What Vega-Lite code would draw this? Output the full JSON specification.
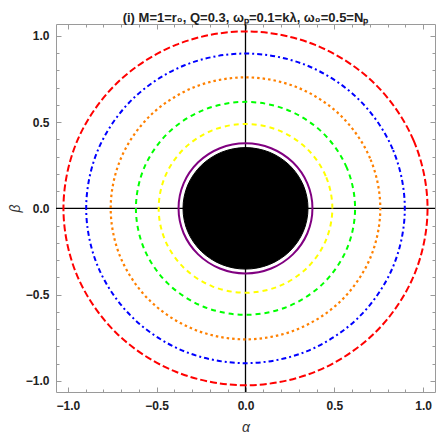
{
  "$schema": "https://vega.github.io/schema/vega-lite/v6.json",
  "width": 379,
  "height": 368,
  "autosize": {"type": "none"},
  "padding": {"left": 56, "top": 24, "right": 1, "bottom": 44},
  "background": "white",
  "config": {
    "view": {"stroke": "#9a9a9a", "strokeWidth": 1},
    "font": "Liberation Sans"
  },
  "title": {
    "text": "(i) M=1=r₀, Q=0.3, ωₚ=0.1=kλ, ω₀=0.5=Nₚ",
    "anchor": "middle",
    "fontSize": 13,
    "fontWeight": "bold",
    "font": "Liberation Sans",
    "color": "#222222",
    "offset": -2
  },
  "datasets": {
    "circles": [
      {"c": "red", "i": 0, "x": 1.025, "y": 0},
      {"c": "red", "i": 1, "x": 0.94698, "y": 0.39225},
      {"c": "red", "i": 2, "x": 0.72479, "y": 0.72479},
      {"c": "red", "i": 3, "x": 0.39225, "y": 0.94698},
      {"c": "red", "i": 4, "x": 0, "y": 1.025},
      {"c": "red", "i": 5, "x": -0.39225, "y": 0.94698},
      {"c": "red", "i": 6, "x": -0.72479, "y": 0.72479},
      {"c": "red", "i": 7, "x": -0.94698, "y": 0.39225},
      {"c": "red", "i": 8, "x": -1.025, "y": 0},
      {"c": "red", "i": 9, "x": -0.94698, "y": -0.39225},
      {"c": "red", "i": 10, "x": -0.72479, "y": -0.72479},
      {"c": "red", "i": 11, "x": -0.39225, "y": -0.94698},
      {"c": "red", "i": 12, "x": 0, "y": -1.025},
      {"c": "red", "i": 13, "x": 0.39225, "y": -0.94698},
      {"c": "red", "i": 14, "x": 0.72479, "y": -0.72479},
      {"c": "red", "i": 15, "x": 0.94698, "y": -0.39225},

      {"c": "blue", "i": 0, "x": 0.897, "y": 0},
      {"c": "blue", "i": 1, "x": 0.82872, "y": 0.34326},
      {"c": "blue", "i": 2, "x": 0.63428, "y": 0.63428},
      {"c": "blue", "i": 3, "x": 0.34326, "y": 0.82872},
      {"c": "blue", "i": 4, "x": 0, "y": 0.897},
      {"c": "blue", "i": 5, "x": -0.34326, "y": 0.82872},
      {"c": "blue", "i": 6, "x": -0.63428, "y": 0.63428},
      {"c": "blue", "i": 7, "x": -0.82872, "y": 0.34326},
      {"c": "blue", "i": 8, "x": -0.897, "y": 0},
      {"c": "blue", "i": 9, "x": -0.82872, "y": -0.34326},
      {"c": "blue", "i": 10, "x": -0.63428, "y": -0.63428},
      {"c": "blue", "i": 11, "x": -0.34326, "y": -0.82872},
      {"c": "blue", "i": 12, "x": 0, "y": -0.897},
      {"c": "blue", "i": 13, "x": 0.34326, "y": -0.82872},
      {"c": "blue", "i": 14, "x": 0.63428, "y": -0.63428},
      {"c": "blue", "i": 15, "x": 0.82872, "y": -0.34326},

      {"c": "orange", "i": 0, "x": 0.759, "y": 0},
      {"c": "orange", "i": 1, "x": 0.70123, "y": 0.29045},
      {"c": "orange", "i": 2, "x": 0.5367, "y": 0.5367},
      {"c": "orange", "i": 3, "x": 0.29045, "y": 0.70123},
      {"c": "orange", "i": 4, "x": 0, "y": 0.759},
      {"c": "orange", "i": 5, "x": -0.29045, "y": 0.70123},
      {"c": "orange", "i": 6, "x": -0.5367, "y": 0.5367},
      {"c": "orange", "i": 7, "x": -0.70123, "y": 0.29045},
      {"c": "orange", "i": 8, "x": -0.759, "y": 0},
      {"c": "orange", "i": 9, "x": -0.70123, "y": -0.29045},
      {"c": "orange", "i": 10, "x": -0.5367, "y": -0.5367},
      {"c": "orange", "i": 11, "x": -0.29045, "y": -0.70123},
      {"c": "orange", "i": 12, "x": 0, "y": -0.759},
      {"c": "orange", "i": 13, "x": 0.29045, "y": -0.70123},
      {"c": "orange", "i": 14, "x": 0.5367, "y": -0.5367},
      {"c": "orange", "i": 15, "x": 0.70123, "y": -0.29045},

      {"c": "green", "i": 0, "x": 0.617, "y": 0},
      {"c": "green", "i": 1, "x": 0.57003, "y": 0.23611},
      {"c": "green", "i": 2, "x": 0.43629, "y": 0.43629},
      {"c": "green", "i": 3, "x": 0.23611, "y": 0.57003},
      {"c": "green", "i": 4, "x": 0, "y": 0.617},
      {"c": "green", "i": 5, "x": -0.23611, "y": 0.57003},
      {"c": "green", "i": 6, "x": -0.43629, "y": 0.43629},
      {"c": "green", "i": 7, "x": -0.57003, "y": 0.23611},
      {"c": "green", "i": 8, "x": -0.617, "y": 0},
      {"c": "green", "i": 9, "x": -0.57003, "y": -0.23611},
      {"c": "green", "i": 10, "x": -0.43629, "y": -0.43629},
      {"c": "green", "i": 11, "x": -0.23611, "y": -0.57003},
      {"c": "green", "i": 12, "x": 0, "y": -0.617},
      {"c": "green", "i": 13, "x": 0.23611, "y": -0.57003},
      {"c": "green", "i": 14, "x": 0.43629, "y": -0.43629},
      {"c": "green", "i": 15, "x": 0.57003, "y": -0.23611},

      {"c": "yellow", "i": 0, "x": 0.489, "y": 0},
      {"c": "yellow", "i": 1, "x": 0.45178, "y": 0.18713},
      {"c": "yellow", "i": 2, "x": 0.34578, "y": 0.34578},
      {"c": "yellow", "i": 3, "x": 0.18713, "y": 0.45178},
      {"c": "yellow", "i": 4, "x": 0, "y": 0.489},
      {"c": "yellow", "i": 5, "x": -0.18713, "y": 0.45178},
      {"c": "yellow", "i": 6, "x": -0.34578, "y": 0.34578},
      {"c": "yellow", "i": 7, "x": -0.45178, "y": 0.18713},
      {"c": "yellow", "i": 8, "x": -0.489, "y": 0},
      {"c": "yellow", "i": 9, "x": -0.45178, "y": -0.18713},
      {"c": "yellow", "i": 10, "x": -0.34578, "y": -0.34578},
      {"c": "yellow", "i": 11, "x": -0.18713, "y": -0.45178},
      {"c": "yellow", "i": 12, "x": 0, "y": -0.489},
      {"c": "yellow", "i": 13, "x": 0.18713, "y": -0.45178},
      {"c": "yellow", "i": 14, "x": 0.34578, "y": -0.34578},
      {"c": "yellow", "i": 15, "x": 0.45178, "y": -0.18713},

      {"c": "purple", "i": 0, "x": 0.377, "y": 0},
      {"c": "purple", "i": 1, "x": 0.3483, "y": 0.14427},
      {"c": "purple", "i": 2, "x": 0.26658, "y": 0.26658},
      {"c": "purple", "i": 3, "x": 0.14427, "y": 0.3483},
      {"c": "purple", "i": 4, "x": 0, "y": 0.377},
      {"c": "purple", "i": 5, "x": -0.14427, "y": 0.3483},
      {"c": "purple", "i": 6, "x": -0.26658, "y": 0.26658},
      {"c": "purple", "i": 7, "x": -0.3483, "y": 0.14427},
      {"c": "purple", "i": 8, "x": -0.377, "y": 0},
      {"c": "purple", "i": 9, "x": -0.3483, "y": -0.14427},
      {"c": "purple", "i": 10, "x": -0.26658, "y": -0.26658},
      {"c": "purple", "i": 11, "x": -0.14427, "y": -0.3483},
      {"c": "purple", "i": 12, "x": 0, "y": -0.377},
      {"c": "purple", "i": 13, "x": 0.14427, "y": -0.3483},
      {"c": "purple", "i": 14, "x": 0.26658, "y": -0.26658},
      {"c": "purple", "i": 15, "x": 0.3483, "y": -0.14427},

      {"c": "black", "i": 0, "x": 0.352, "y": 0},
      {"c": "black", "i": 1, "x": 0.32521, "y": 0.1347},
      {"c": "black", "i": 2, "x": 0.2489, "y": 0.2489},
      {"c": "black", "i": 3, "x": 0.1347, "y": 0.32521},
      {"c": "black", "i": 4, "x": 0, "y": 0.352},
      {"c": "black", "i": 5, "x": -0.1347, "y": 0.32521},
      {"c": "black", "i": 6, "x": -0.2489, "y": 0.2489},
      {"c": "black", "i": 7, "x": -0.32521, "y": 0.1347},
      {"c": "black", "i": 8, "x": -0.352, "y": 0},
      {"c": "black", "i": 9, "x": -0.32521, "y": -0.1347},
      {"c": "black", "i": 10, "x": -0.2489, "y": -0.2489},
      {"c": "black", "i": 11, "x": -0.1347, "y": -0.32521},
      {"c": "black", "i": 12, "x": 0, "y": -0.352},
      {"c": "black", "i": 13, "x": 0.1347, "y": -0.32521},
      {"c": "black", "i": 14, "x": 0.2489, "y": -0.2489},
      {"c": "black", "i": 15, "x": 0.32521, "y": -0.1347}
    ],
    "origin": [{"z": 0}]
  },
  "resolve": {"axis": {"x": "independent", "y": "independent"}},
  "layer": [
    {
      "data": {"name": "origin"},
      "mark": {"type": "rule", "color": "black", "strokeWidth": 1.3},
      "encoding": {
        "x": {"field": "z", "type": "quantitative", "scale": {"domain": [-1.067, 1.067], "nice": false, "zero": false},
          "axis": {
            "orient": "bottom",
            "values": [-1, -0.9, -0.8, -0.7, -0.6, -0.5, -0.4, -0.3, -0.2, -0.1, 0, 0.1, 0.2, 0.3, 0.4, 0.5, 0.6, 0.7, 0.8, 0.9, 1],
            "labelExpr": "abs(datum.value*2 - round(datum.value*2)) < 0.001 ? format(datum.value, '.1f') : ''",
            "tickSize": {"condition": {"test": "abs(datum.value*2 - round(datum.value*2)) < 0.001", "value": -5}, "value": -3},
            "tickColor": "#9a9a9a",
            "domain": false,
            "grid": false,
            "labelPadding": 13,
            "labelOverlap": false,
            "labelFlush": false,
            "labelFont": "Liberation Sans",
            "labelFontSize": 12,
            "labelFontWeight": "bold",
            "labelColor": "#222222",
            "title": "α",
            "titleFont": "Liberation Sans",
            "titleFontSize": 14,
            "titleFontStyle": "italic",
            "titleFontWeight": "normal",
            "titleColor": "#333333",
            "titlePadding": 7
          }
        }
      }
    },
    {
      "data": {"name": "origin"},
      "mark": {"type": "rule", "color": "black", "strokeWidth": 1.3},
      "encoding": {
        "y": {"field": "z", "type": "quantitative", "scale": {"domain": [-1.064, 1.068], "nice": false, "zero": false},
          "axis": {
            "orient": "left",
            "values": [-1, -0.9, -0.8, -0.7, -0.6, -0.5, -0.4, -0.3, -0.2, -0.1, 0, 0.1, 0.2, 0.3, 0.4, 0.5, 0.6, 0.7, 0.8, 0.9, 1],
            "labelExpr": "abs(datum.value*2 - round(datum.value*2)) < 0.001 ? format(datum.value, '.1f') : ''",
            "tickSize": {"condition": {"test": "abs(datum.value*2 - round(datum.value*2)) < 0.001", "value": -5}, "value": -3},
            "tickColor": "#9a9a9a",
            "domain": false,
            "grid": false,
            "labelPadding": 12,
            "labelOverlap": false,
            "labelFlush": false,
            "labelFont": "Liberation Sans",
            "labelFontSize": 12,
            "labelFontWeight": "bold",
            "labelColor": "#222222",
            "title": "β",
            "titleFont": "Liberation Sans",
            "titleFontSize": 14,
            "titleFontStyle": "italic",
            "titleFontWeight": "normal",
            "titleColor": "#333333",
            "titlePadding": 3
          }
        }
      }
    },
    {
      "data": {"name": "circles"},
      "transform": [{"filter": "datum.c === 'black'"}],
      "mark": {"type": "line", "interpolate": "cardinal-closed", "stroke": "black", "fill": "black", "strokeWidth": 1},
      "encoding": {
        "x": {"field": "x", "type": "quantitative",
          "axis": {
            "orient": "top",
            "values": [-1, -0.9, -0.8, -0.7, -0.6, -0.5, -0.4, -0.3, -0.2, -0.1, 0, 0.1, 0.2, 0.3, 0.4, 0.5, 0.6, 0.7, 0.8, 0.9, 1],
            "labels": false,
            "tickSize": {"condition": {"test": "abs(datum.value*2 - round(datum.value*2)) < 0.001", "value": -5}, "value": -3},
            "tickColor": "#9a9a9a",
            "domain": false,
            "grid": false,
            "title": null
          }
        },
        "y": {"field": "y", "type": "quantitative",
          "axis": {
            "orient": "right",
            "values": [-1, -0.9, -0.8, -0.7, -0.6, -0.5, -0.4, -0.3, -0.2, -0.1, 0, 0.1, 0.2, 0.3, 0.4, 0.5, 0.6, 0.7, 0.8, 0.9, 1],
            "labels": false,
            "tickSize": {"condition": {"test": "abs(datum.value*2 - round(datum.value*2)) < 0.001", "value": -5}, "value": -3},
            "tickColor": "#9a9a9a",
            "domain": false,
            "grid": false,
            "title": null
          }
        },
        "order": {"field": "i", "type": "quantitative"}
      }
    },
    {
      "data": {"name": "circles"},
      "transform": [{"filter": "datum.c === 'purple'"}],
      "mark": {"type": "line", "interpolate": "cardinal-closed", "stroke": "#800080", "strokeWidth": 2},
      "encoding": {
        "x": {"field": "x", "type": "quantitative", "axis": null},
        "y": {"field": "y", "type": "quantitative", "axis": null},
        "order": {"field": "i", "type": "quantitative"}
      }
    },
    {
      "data": {"name": "circles"},
      "transform": [{"filter": "datum.c === 'yellow'"}],
      "mark": {"type": "line", "interpolate": "cardinal-closed", "stroke": "#ffff00", "strokeWidth": 2, "strokeDash": [5, 4]},
      "encoding": {
        "x": {"field": "x", "type": "quantitative", "axis": null},
        "y": {"field": "y", "type": "quantitative", "axis": null},
        "order": {"field": "i", "type": "quantitative"}
      }
    },
    {
      "data": {"name": "circles"},
      "transform": [{"filter": "datum.c === 'green'"}],
      "mark": {"type": "line", "interpolate": "cardinal-closed", "stroke": "#00ff00", "strokeWidth": 2, "strokeDash": [5, 4]},
      "encoding": {
        "x": {"field": "x", "type": "quantitative", "axis": null},
        "y": {"field": "y", "type": "quantitative", "axis": null},
        "order": {"field": "i", "type": "quantitative"}
      }
    },
    {
      "data": {"name": "circles"},
      "transform": [{"filter": "datum.c === 'orange'"}],
      "mark": {"type": "line", "interpolate": "cardinal-closed", "stroke": "#ff8000", "strokeWidth": 2.2, "strokeDash": [2.5, 3]},
      "encoding": {
        "x": {"field": "x", "type": "quantitative", "axis": null},
        "y": {"field": "y", "type": "quantitative", "axis": null},
        "order": {"field": "i", "type": "quantitative"}
      }
    },
    {
      "data": {"name": "circles"},
      "transform": [{"filter": "datum.c === 'blue'"}],
      "mark": {"type": "line", "interpolate": "cardinal-closed", "stroke": "#0000ff", "strokeWidth": 2, "strokeDash": [5, 3, 2, 3]},
      "encoding": {
        "x": {"field": "x", "type": "quantitative", "axis": null},
        "y": {"field": "y", "type": "quantitative", "axis": null},
        "order": {"field": "i", "type": "quantitative"}
      }
    },
    {
      "data": {"name": "circles"},
      "transform": [{"filter": "datum.c === 'red'"}],
      "mark": {"type": "line", "interpolate": "cardinal-closed", "stroke": "#ff0000", "strokeWidth": 2, "strokeDash": [7, 3]},
      "encoding": {
        "x": {"field": "x", "type": "quantitative", "axis": null},
        "y": {"field": "y", "type": "quantitative", "axis": null},
        "order": {"field": "i", "type": "quantitative"}
      }
    }
  ]
}
